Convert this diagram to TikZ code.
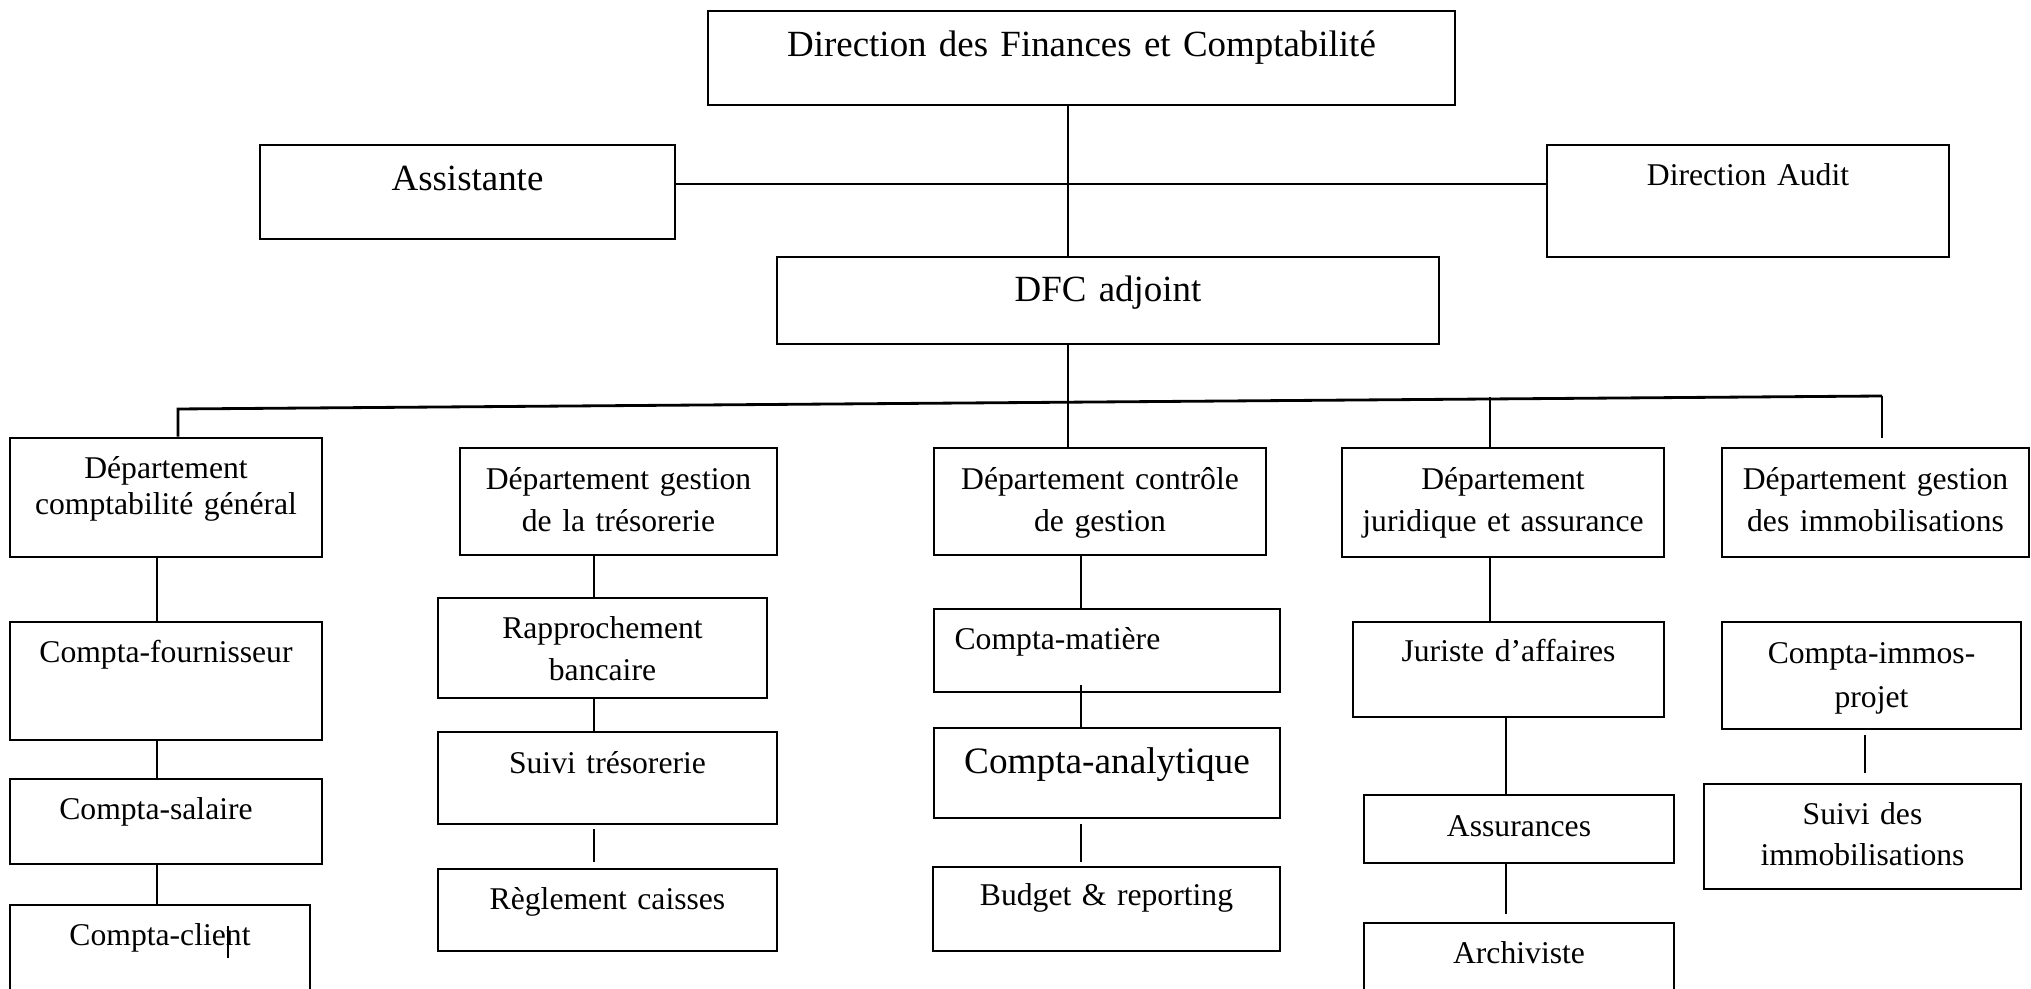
\documentclass[tikz,border=0pt]{standalone}
\usepackage{fontspec}
\setmainfont{Liberation Serif}
\usetikzlibrary{fit}

% text sizes used in the chart
\newcommand\orgsmall{\fontsize{9}{11.75}\selectfont}
\newcommand\orgtight{\fontsize{9}{10.15}\selectfont}
\newcommand\orgloose{\fontsize{9}{12.3}\selectfont}
\newcommand\orglarge{\fontsize{10.5}{12}\selectfont}

% \orgbox{name}{x1,y1}{x2,y2}{baseline y}{label options}{text}
\newcommand\orgbox[6]{%
  \node[box, fit={(#2) (#3)}] (#1) {};
  \node[lbl, #5] (#1-t) at (#1.center |- 0,#4) {#6};
}

\tikzset{
  box/.style={draw, line width=0.8pt, inner sep=0pt, fill=white},
  lbl/.style={inner sep=0pt, anchor=base, align=center, text width=3.3cm, font=\orgsmall},
  link/.style={line width=0.6pt},
  bus/.style={line width=0.8pt},
}

\begin{document}
\begin{tikzpicture}[x=0.01cm, y=-0.01cm]
\useasboundingbox (0,0) rectangle (2031,989);

% --- management level
\orgbox{dir}{708,11}{1455,105}{57}{font=\orglarge, text width=7cm}{Direction des Finances et Comptabilité}
\orgbox{assist}{260,145}{675,239}{191}{font=\orglarge}{Assistante}
\orgbox{audit}{1547,145}{1949,257}{186}{}{Direction Audit}
\orgbox{adj}{777,257}{1439,344}{302}{font=\orglarge}{DFC adjoint}

% --- departments
\orgbox{d1}{10,438}{322,557}{479}{font=\orgtight}{Département\\comptabilité général}
\orgbox{d2}{460,448}{777,555}{490}{}{Département gestion\\de la trésorerie}
\orgbox{d3}{934,448}{1266,555}{490}{}{Département contrôle\\de gestion}
\orgbox{d4}{1342,448}{1664,557}{490}{}{Département\\juridique et assurance}
\orgbox{d5}{1722,448}{2029,557}{490}{}{Département gestion\\des immobilisations}

% --- general accounting
\orgbox{c1}{10,622}{322,740}{663}{}{Compta-fournisseur}
\orgbox{c2}{10,779}{322,864}{819}{xshift=-0.1cm}{Compta-salaire}
\orgbox{c3}{10,905}{310,1010}{945}{}{Compta-client}

% --- treasury
\orgbox{t1}{438,598}{767,698}{639}{}{Rapprochement\\bancaire}
\orgbox{t2}{438,732}{777,824}{774}{}{Suivi trésorerie}
\orgbox{t3}{438,869}{777,951}{909}{}{Règlement caisses}

% --- management control
\orgbox{g1}{934,609}{1280,692}{650}{anchor=base west, align=left, xshift=-1.53cm}{Compta-matière}
\orgbox{g2}{934,728}{1280,818}{774}{font=\fontsize{10.6}{12}\selectfont}{Compta-analytique}
\orgbox{g3}{933,867}{1280,951}{905}{}{Budget \& reporting}

% --- legal and insurance
\orgbox{j1}{1353,622}{1664,717}{662}{}{Juriste d’affaires}
\orgbox{j2}{1364,795}{1674,863}{836}{}{Assurances}
\orgbox{j3}{1364,923}{1674,1010}{963}{}{Archiviste}

% --- fixed assets
\orgbox{i1}{1722,622}{2021,729}{664}{font=\orgloose}{Compta-immos-\\projet}
\orgbox{i2}{1704,784}{2021,889}{824}{}{Suivi des\\immobilisations}

% --- top spine
\draw[link] (dir.south -| 1068,0) -- (adj.north -| 1068,0);
\draw[link] (adj.south -| 1068,0) -- (d3.north -| 1068,0);
\draw[bus] (assist.east |- 0,184) -- (audit.west |- 0,184);

% --- department bus
\coordinate (busL) at (178,409);
\coordinate (busR) at (1882,396);
\coordinate (d4top) at (1490,397);
\coordinate (d5drop) at (1882,438);
\draw[bus] (d1.north -| busL) -- (busL) -- (busR);
\draw[link] (busR) -- (d5drop);
\draw[link] (d4top) -- (d4.north -| d4top);

% --- department columns
\draw[link] (d1.south -| 157,0) -- (c1.north -| 157,0);
\draw[link] (c1.south -| 157,0) -- (c2.north -| 157,0);
\draw[link] (c2.south -| 157,0) -- (c3.north -| 157,0);

\draw[link] (d2.south -| 594,0) -- (t1.north -| 594,0);
\draw[link] (t1.south -| 594,0) -- (t2.north -| 594,0);
\draw[link, shorten <=0.04cm, shorten >=0.06cm] (t2.south -| 594,0) -- (t3.north -| 594,0);

\draw[link] (d3.south -| 1081,0) -- (g1.north -| 1081,0);
\draw[link, shorten <=-0.08cm] (g1.south -| 1081,0) -- (g2.north -| 1081,0);
\draw[link, shorten <=0.05cm, shorten >=0.04cm] (g2.south -| 1081,0) -- (g3.north -| 1081,0);

\draw[link] (d4.south -| 1490,0) -- (j1.north -| 1490,0);
\draw[link] (j1.south -| 1506,0) -- (j2.north -| 1506,0);
\draw[link, shorten >=0.08cm] (j2.south -| 1506,0) -- (j3.north -| 1506,0);

\draw[link, shorten <=0.05cm, shorten >=0.1cm] (i1.south -| 1865,0) -- (i2.north -| 1865,0);

% stray cursor mark inside the last general-accounting box
\draw[line width=0.5pt] (228,926) -- (228,958);
\end{tikzpicture}
\end{document}
